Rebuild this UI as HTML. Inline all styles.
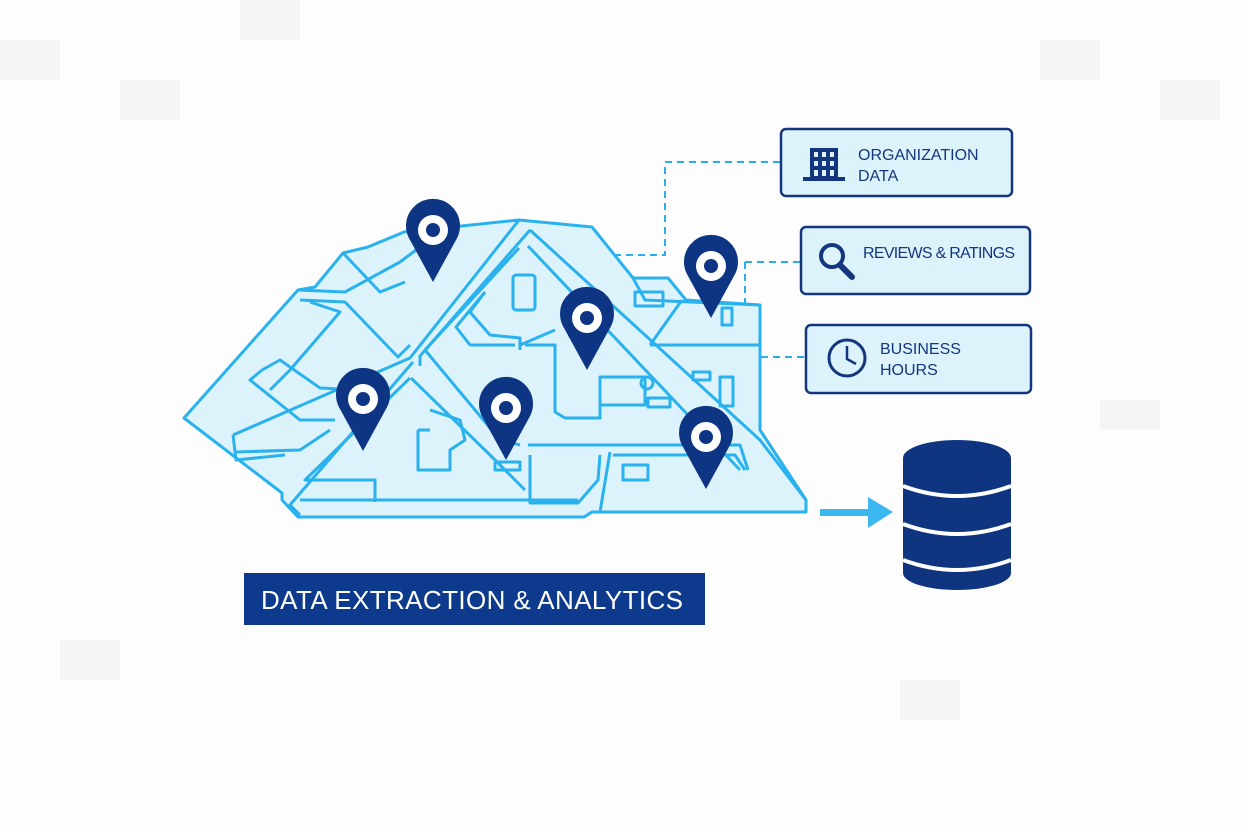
<!DOCTYPE html>
<html><head><meta charset="utf-8"><style>
html,body{margin:0;padding:0;background:#fff;}
svg{display:block}
</style></head><body>
<svg width="1248" height="832" viewBox="0 0 1248 832" xmlns="http://www.w3.org/2000/svg">
<rect width="1248" height="832" fill="#fdfdfd"/>
<g fill="#f5f5f5">
<rect x="240" y="0" width="60" height="40"/><rect x="0" y="40" width="60" height="40"/><rect x="120" y="80" width="60" height="40"/>
<rect x="1040" y="40" width="60" height="40"/><rect x="1160" y="80" width="60" height="40"/><rect x="1100" y="400" width="60" height="30"/>
<rect x="60" y="640" width="60" height="40"/><rect x="900" y="680" width="60" height="40"/>
</g>
<g stroke="#29aee8" stroke-width="2" stroke-dasharray="7,5" fill="none">
<polyline points="458,255 665,255 665,162 780,162"/>
<polyline points="745,262 800,262"/>
<polyline points="745,262 745,357"/>
<polyline points="605,357 805,357"/>
</g>
<g stroke="#2ab2ee" stroke-width="3" fill="#dcf3fb" stroke-linejoin="round">
<polygon points="184,418 298,290 315,287 343,253 368,247 404,232 519,220 592,227 633,278 668,278 686,300 760,305 760,430 806,500 806,512 592,512 584,517 298,517 282,500 282,493"/>
</g>
<g stroke="#2ab2ee" stroke-width="3" fill="none" stroke-linejoin="round">
<polyline points="298,290 345,292 400,262 416,250"/>
<polyline points="343,253 380,292 405,282"/>
<polyline points="300,300 345,302 398,357 410,345"/>
<polyline points="310,302 340,312 290,370 270,390"/>
<polyline points="236,452 300,450 330,430"/>
<polyline points="233,435 236,460 285,455"/>
<polyline points="262,370 280,360 320,388 360,390"/>
<polyline points="262,370 250,380 300,420 335,420"/>
<polyline points="519,220 410,358 233,435"/>
<polyline points="530,230 420,356 420,366"/>
<polyline points="530,230 760,440 806,500"/>
<polyline points="528,246 740,470"/>
<polyline points="519,248 425,350 500,440 520,445"/>
<polyline points="413,362 290,505 300,515"/>
<polyline points="410,378 305,480 375,480 375,502"/>
<polyline points="411,378 490,455 525,490"/>
<polyline points="300,500 578,500"/>
<polyline points="528,445 740,445 748,470"/>
<polyline points="530,455 530,503 578,503 598,480 600,455"/>
<polyline points="610,452 600,512"/>
<polyline points="613,455 735,455 745,470"/>
<polyline points="485,292 470,312 490,335 520,338 520,350"/>
<polyline points="485,292 456,327 470,345 515,345"/>
<polyline points="525,345 555,345 555,412 565,418 600,418 600,405 640,405"/>
<polyline points="520,345 555,330"/>
<polyline points="633,278 645,300 760,305"/>
<polyline points="650,345 760,345"/>
<polyline points="682,300 650,345"/>
<polyline points="418,430 418,470 450,470 450,450 465,440 460,420 430,410"/>
<polyline points="430,430 418,430"/>
<polyline points="495,462 520,462 520,470 495,470 495,462"/>
<rect x="513" y="275" width="22" height="35" rx="3"/>
<rect x="635" y="292" width="28" height="14"/>
<rect x="722" y="308" width="10" height="17"/>
<rect x="600" y="377" width="45" height="28"/>
<circle cx="647" cy="383" r="6"/>
<rect x="648" y="398" width="22" height="9"/>
<rect x="693" y="372" width="17" height="8"/>
<rect x="720" y="377" width="13" height="29"/>
<rect x="623" y="465" width="25" height="15"/>
</g>
<defs>
<g id="pin">
<path d="M0,52 L-23,10 A27,27 0 1 1 23,10 Z" fill="#0d3583"/>
<circle cx="0" cy="0" r="15" fill="#fff"/>
<circle cx="0" cy="0" r="7" fill="#0d3583"/>
</g>
</defs>
<use href="#pin" x="433" y="230"/>
<use href="#pin" x="711" y="266"/>
<use href="#pin" x="587" y="318"/>
<use href="#pin" x="363" y="399"/>
<use href="#pin" x="506" y="408"/>
<use href="#pin" x="706" y="437"/>
<g stroke="#14367f" stroke-width="2.5" fill="#dcf3fb">
<rect x="781" y="129" width="231" height="67" rx="5"/>
<rect x="801" y="227" width="229" height="67" rx="5"/>
<rect x="806" y="325" width="225" height="68" rx="5"/>
</g>
<g fill="#14367f">
<rect x="810" y="148" width="28" height="32"/>
<rect x="803" y="177" width="42" height="4"/>
</g>
<g fill="#dcf3fb">
<rect x="814" y="152" width="4" height="5"/><rect x="822" y="152" width="4" height="5"/><rect x="830" y="152" width="4" height="5"/>
<rect x="814" y="161" width="4" height="5"/><rect x="822" y="161" width="4" height="5"/><rect x="830" y="161" width="4" height="5"/>
<rect x="814" y="170" width="4" height="6"/><rect x="822" y="170" width="4" height="6"/><rect x="830" y="170" width="4" height="6"/>
</g>
<circle cx="832" cy="256" r="11" fill="none" stroke="#14367f" stroke-width="4"/>
<line x1="840" y1="265" x2="852" y2="277" stroke="#14367f" stroke-width="6" stroke-linecap="round"/>
<circle cx="847" cy="358" r="18" fill="none" stroke="#14367f" stroke-width="3"/>
<polyline points="847,346 847,359 856,364" fill="none" stroke="#14367f" stroke-width="2.5"/>
<g font-family="Liberation Sans, sans-serif" font-size="16" fill="#14367f">
<text x="858" y="160">ORGANIZATION</text>
<text x="858" y="181">DATA</text>
<text x="863" y="258" textLength="152">REVIEWS &amp; RATINGS</text>
<text x="880" y="354">BUSINESS</text>
<text x="880" y="375">HOURS</text>
</g>
<rect x="820" y="509" width="52" height="7" fill="#3ab8ef"/>
<polygon points="868,497 893,512 868,528" fill="#3ab8ef"/>
<g fill="#0f3580">
<ellipse cx="957" cy="458" rx="54" ry="18"/>
<rect x="903" y="458" width="108" height="115"/>
<ellipse cx="957" cy="573" rx="54" ry="17"/>
</g>
<g fill="none" stroke="#fff" stroke-width="4">
<path d="M903,486 Q957,506 1011,486"/>
<path d="M903,524 Q957,544 1011,524"/>
<path d="M903,560 Q957,580 1011,560"/>
</g>
<rect x="244" y="573" width="461" height="52" fill="#0d3a8c"/>
<text x="472" y="609" text-anchor="middle" font-family="Liberation Sans, sans-serif" font-size="26" fill="#fff" textLength="422">DATA EXTRACTION &amp; ANALYTICS</text>
</svg>
</body></html>
